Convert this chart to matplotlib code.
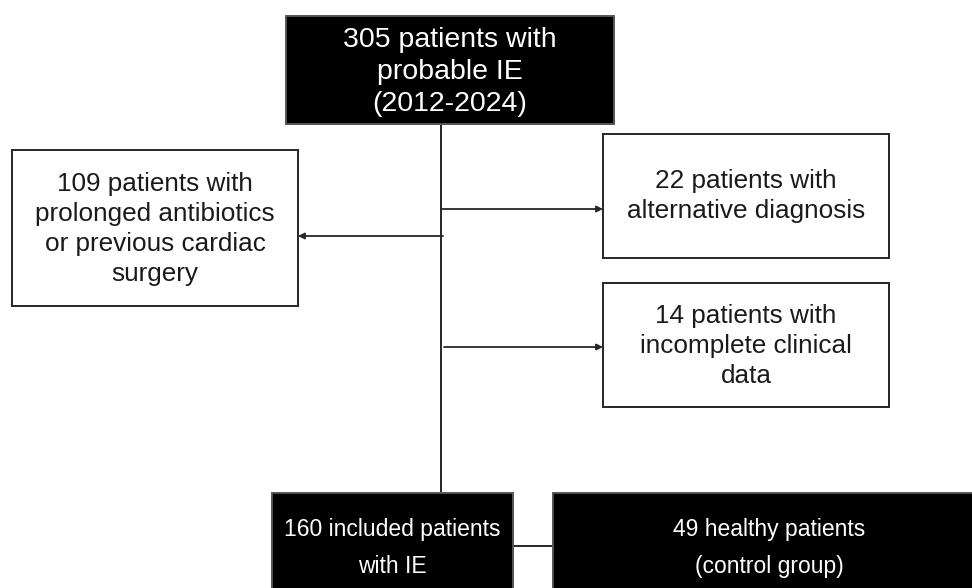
import matplotlib
matplotlib.use("Agg")
import matplotlib.pyplot as plt
from matplotlib.patches import Rectangle
from matplotlib import font_manager

# ---- content ----
top_label = "305 patients with\nprobable IE\n(2012-2024)"
excl_left_label = "109 patients with\nprolonged antibiotics\nor previous cardiac\nsurgery"
excl_right_labels = ["22 patients with\nalternative diagnosis",
                     "14 patients with\nincomplete clinical\ndata"]
included_label = "160 included patients\nwith IE"
control_label = "49 healthy patients\n(control group)"

names = {f.name for f in font_manager.fontManager.ttflist}
main_font = "Liberation Sans" if "Liberation Sans" in names else "DejaVu Sans"
narrow_font = "Liberation Sans Narrow" if "Liberation Sans Narrow" in names else main_font

W, H = 972, 588
fig = plt.figure(figsize=(W / 100, H / 100), dpi=100)
ax = fig.add_axes([0, 0, 1, 1])
ax.set_xlim(0, W)
ax.set_ylim(H, 0)
ax.axis("off")

edge = "#262626"

def box(x0, y0, x1, y1, text, dark=False, size=17.5, font=main_font, ls=1.0, cy=None):
    fc = "black" if dark else "white"
    ec = "#555555" if dark else edge
    ax.add_patch(Rectangle((x0, y0), x1 - x0, y1 - y0, facecolor=fc,
                           edgecolor=ec, lw=1.4, zorder=2))
    ax.text((x0 + x1) / 2, (y0 + y1) / 2 if cy is None else cy, text,
            ha="center", va="center",
            color="white" if dark else "#1a1a1a", fontsize=size,
            family=[font, "DejaVu Sans"], linespacing=ls, zorder=3)

def line(xs, ys):
    ax.plot(xs, ys, color=edge, lw=1.4, zorder=1, solid_capstyle="butt")

def arrow(x0, y, x1):
    ax.annotate("", xy=(x1, y), xytext=(x0, y),
                arrowprops=dict(arrowstyle="-|>", color=edge, lw=1.3,
                                mutation_scale=9, shrinkA=0, shrinkB=0),
                zorder=1)

# connectors
line([441, 441], [124, 494])
arrow(441, 209, 603)
arrow(443, 236, 298)
arrow(444, 347, 603)
line([513, 553], [546, 546])

# boxes
box(286, 16, 614, 124, top_label, dark=True, size=20.5, ls=1.28, cy=72)
box(12, 150, 298, 306, excl_left_label, size=18.8, ls=1.3, cy=229)
box(603, 134, 889, 258, excl_right_labels[0], size=18.8, ls=1.3, cy=196)
box(603, 283, 889, 407, excl_right_labels[1], size=18.8, ls=1.3, cy=346)
box(272, 493, 513, 600, included_label, dark=True, size=16.5, font=narrow_font, ls=1.75, cy=548)
box(553, 493, 985, 600, control_label, dark=True, size=16.5, font=narrow_font, ls=1.75, cy=548)

fig.savefig("out.png", dpi=100)
